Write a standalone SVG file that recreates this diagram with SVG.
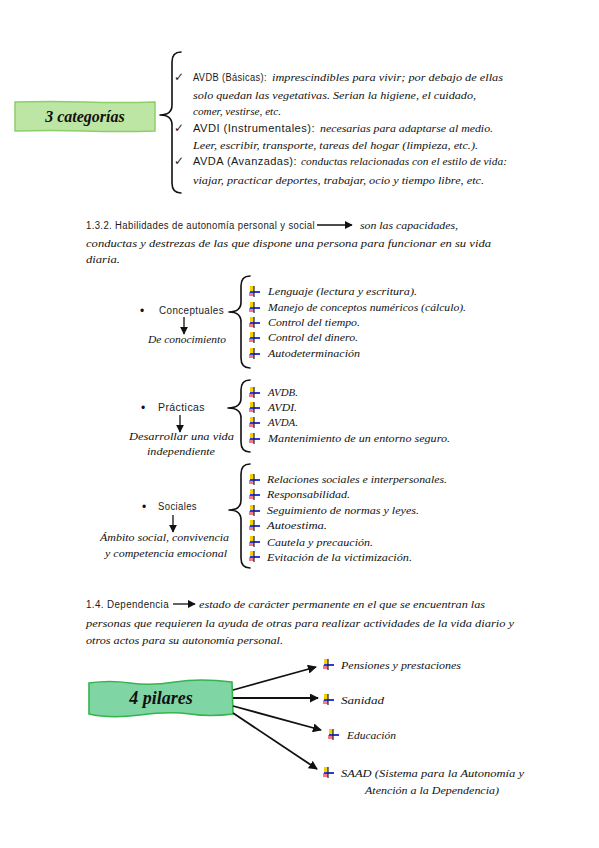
<svg xmlns="http://www.w3.org/2000/svg" xmlns:xlink="http://www.w3.org/1999/xlink" width="599" height="848" viewBox="0 0 599 848">
<style>
.cur{font-family:"Liberation Serif","DejaVu Serif",serif;font-style:italic;font-size:11px;fill:#111}
.sans{font-family:"Liberation Sans","DejaVu Sans",sans-serif;font-size:10px;fill:#1a1a1a;letter-spacing:0.4px}
.title{font-family:"Liberation Serif","DejaVu Serif",serif;font-style:italic;font-weight:bold;fill:#111}
.brace{fill:none;stroke:#111;stroke-width:1.6;stroke-linecap:round;stroke-linejoin:round}
.conn{fill:none;stroke:#111;stroke-width:1.8}
.thin{fill:none;stroke:#111;stroke-width:1.3}
.chk{font-family:"DejaVu Sans",sans-serif;font-size:12px;fill:#222}
.dot{font-family:"Liberation Sans",sans-serif;font-size:12px;fill:#111}
</style>
<defs>
<marker id="ah" viewBox="0 0 10 10" refX="9" refY="5" markerWidth="5" markerHeight="5" orient="auto" markerUnits="strokeWidth">
<path d="M0,0 L10,5 L0,10 z" fill="#111"/>
</marker>
<marker id="ahs" viewBox="0 0 10 10" refX="9" refY="5" markerWidth="6" markerHeight="6" orient="auto" markerUnits="strokeWidth">
<path d="M0,0 L10,5 L0,10 z" fill="#111"/>
</marker>
<g id="ico">
<rect x="-4" y="-6" width="4" height="6" fill="#f4d000"/>
<rect x="-5" y="0" width="5" height="4" fill="#f27a86"/>
<rect x="-4" y="-1" width="10" height="2" fill="#2a3bd8"/>
<line x1="0" y1="-6" x2="0" y2="5" stroke="#222" stroke-width="1.2"/>
</g>
</defs>
<rect width="599" height="848" fill="#ffffff"/>

<g id="categorias">
<path d="M15,102 Q50,101 85,102 T155,102 L155,131 Q120,132 85,131 T15,131 Z" fill="#bde5a3" stroke="#8ccf68" stroke-width="1.5"/>
<text class="title" x="85" y="122" font-size="16" text-anchor="middle">3 categorías</text>
</g>

<g id="categorias-list">
<path class="brace" d="M181,52 Q172,52 172,62 L172,105 Q172,115 160,115 Q172,115 172,125 L172,183 Q172,193 181,193"/>
<text class="chk" x="174" y="81">✓</text>
<text class="chk" x="174" y="132">✓</text>
<text class="chk" x="174" y="165">✓</text>
<text class="sans" x="193" y="81" textLength="74" lengthAdjust="spacingAndGlyphs">AVDB (Básicas):</text>
<text class="cur" x="272" y="81" textLength="231" lengthAdjust="spacingAndGlyphs">imprescindibles para vivir; por debajo de ellas</text>
<text class="cur" x="193" y="99" textLength="283" lengthAdjust="spacingAndGlyphs">solo quedan las vegetativas. Serian la higiene, el cuidado,</text>
<text class="cur" x="193" y="115" textLength="88" lengthAdjust="spacingAndGlyphs">comer, vestirse, etc.</text>
<text class="sans" x="193" y="132" textLength="122" lengthAdjust="spacingAndGlyphs">AVDI (Instrumentales):</text>
<text class="cur" x="320" y="132" textLength="173" lengthAdjust="spacingAndGlyphs">necesarias para adaptarse al medio.</text>
<text class="cur" x="193" y="149" textLength="285" lengthAdjust="spacingAndGlyphs">Leer, escribir, transporte, tareas del hogar (limpieza, etc.).</text>
<text class="sans" x="193" y="165" textLength="104" lengthAdjust="spacingAndGlyphs">AVDA (Avanzadas):</text>
<text class="cur" x="301" y="165" textLength="206" lengthAdjust="spacingAndGlyphs">conductas relacionadas con el estilo de vida:</text>
<text class="cur" x="193" y="184" textLength="291" lengthAdjust="spacingAndGlyphs">viajar, practicar deportes, trabajar, ocio y tiempo libre, etc.</text>
</g>

<g id="sec-132">
<text class="sans" x="86" y="229" textLength="229" lengthAdjust="spacingAndGlyphs">1.3.2. Habilidades de autonomía personal y social</text>
<text class="cur" x="360" y="229" textLength="98" lengthAdjust="spacingAndGlyphs">son las capacidades,</text>
<text class="cur" x="86" y="247" textLength="405" lengthAdjust="spacingAndGlyphs">conductas y destrezas de las que dispone una persona para funcionar en su vida</text>
<text class="cur" x="86" y="263" textLength="34" lengthAdjust="spacingAndGlyphs">diaria.</text>
</g>

<g id="conceptuales">
<text class="dot" x="140" y="315">•</text>
<text class="sans" x="159" y="314" textLength="65" lengthAdjust="spacingAndGlyphs">Conceptuales</text>
<text class="cur" x="148" y="343" textLength="78" lengthAdjust="spacingAndGlyphs">De conocimiento</text>
<path class="brace" d="M250,276 Q241,276 241,286 L241,302 Q241,312 229,312 Q241,312 241,322 L241,358 Q241,368 250,368"/>
<use xlink:href="#ico" x="254" y="292"/>
<use xlink:href="#ico" x="254" y="308"/>
<use xlink:href="#ico" x="254" y="323"/>
<use xlink:href="#ico" x="254" y="338"/>
<use xlink:href="#ico" x="254" y="354"/>
<text class="cur" x="268" y="295" textLength="149" lengthAdjust="spacingAndGlyphs">Lenguaje (lectura y escritura).</text>
<text class="cur" x="268" y="311" textLength="198" lengthAdjust="spacingAndGlyphs">Manejo de conceptos numéricos (cálculo).</text>
<text class="cur" x="268" y="326" textLength="92" lengthAdjust="spacingAndGlyphs">Control del tiempo.</text>
<text class="cur" x="268" y="341" textLength="90" lengthAdjust="spacingAndGlyphs">Control del dinero.</text>
<text class="cur" x="268" y="357" textLength="92" lengthAdjust="spacingAndGlyphs">Autodeterminación</text>
</g>

<g id="practicas">
<text class="dot" x="141" y="412">•</text>
<text class="sans" x="158" y="411" textLength="47" lengthAdjust="spacingAndGlyphs">Prácticas</text>
<text class="cur" x="129" y="440" textLength="105" lengthAdjust="spacingAndGlyphs">Desarrollar una vida</text>
<text class="cur" x="147" y="455" textLength="68" lengthAdjust="spacingAndGlyphs">independiente</text>
<path class="brace" d="M250,380 Q241,380 241,390 L241,398 Q241,408 228,408 Q241,408 241,418 L241,442 Q241,452 250,452"/>
<use xlink:href="#ico" x="254" y="393"/>
<use xlink:href="#ico" x="254" y="408"/>
<use xlink:href="#ico" x="254" y="423"/>
<use xlink:href="#ico" x="254" y="439"/>
<text class="cur" x="268" y="396" textLength="30" lengthAdjust="spacingAndGlyphs">AVDB.</text>
<text class="cur" x="268" y="411" textLength="29" lengthAdjust="spacingAndGlyphs">AVDI.</text>
<text class="cur" x="268" y="426" textLength="30" lengthAdjust="spacingAndGlyphs">AVDA.</text>
<text class="cur" x="268" y="442" textLength="182" lengthAdjust="spacingAndGlyphs">Mantenimiento de un entorno seguro.</text>
</g>

<g id="sociales">
<text class="dot" x="142" y="511">•</text>
<text class="sans" x="158" y="510" textLength="39" lengthAdjust="spacingAndGlyphs">Sociales</text>
<text class="cur" x="100" y="541" textLength="129" lengthAdjust="spacingAndGlyphs">Ámbito social, convivencia</text>
<text class="cur" x="105" y="557" textLength="122" lengthAdjust="spacingAndGlyphs">y competencia emocional</text>
<path class="brace" d="M250,464 Q241,464 241,474 L241,500 Q241,510 229,510 Q241,510 241,520 L241,558 Q241,568 250,568"/>
<use xlink:href="#ico" x="254" y="480"/>
<use xlink:href="#ico" x="254" y="495"/>
<use xlink:href="#ico" x="254" y="511"/>
<use xlink:href="#ico" x="254" y="526"/>
<use xlink:href="#ico" x="254" y="542"/>
<use xlink:href="#ico" x="254" y="557"/>
<text class="cur" x="267" y="483" textLength="180" lengthAdjust="spacingAndGlyphs">Relaciones sociales e interpersonales.</text>
<text class="cur" x="267" y="498" textLength="83" lengthAdjust="spacingAndGlyphs">Responsabilidad.</text>
<text class="cur" x="267" y="514" textLength="152" lengthAdjust="spacingAndGlyphs">Seguimiento de normas y leyes.</text>
<text class="cur" x="267" y="529" textLength="60" lengthAdjust="spacingAndGlyphs">Autoestima.</text>
<text class="cur" x="267" y="546" textLength="106" lengthAdjust="spacingAndGlyphs">Cautela y precaución.</text>
<text class="cur" x="267" y="561" textLength="145" lengthAdjust="spacingAndGlyphs">Evitación de la victimización.</text>
</g>

<g id="sec-14">
<text class="sans" x="86" y="608" textLength="83" lengthAdjust="spacingAndGlyphs">1.4. Dependencia</text>
<text class="cur" x="199" y="608" textLength="286" lengthAdjust="spacingAndGlyphs">estado de carácter permanente en el que se encuentran las</text>
<text class="cur" x="86" y="627" textLength="428" lengthAdjust="spacingAndGlyphs">personas que requieren la ayuda de otras para realizar actividades de la vida diario y</text>
<text class="cur" x="86" y="644" textLength="197" lengthAdjust="spacingAndGlyphs">otros actos para su autonomía personal.</text>
</g>

<g id="pilares">
<path d="M89,683 Q110,680 130,683 T175,682 T232,682 L233,714 Q210,717 190,714 T140,715 T89,714 Z" fill="#80d5a5" stroke="#34b44c" stroke-width="1.6"/>
<text class="title" x="161" y="704" font-size="18" text-anchor="middle">4 pilares</text>
</g>

<g id="pilar-pensiones">
<use xlink:href="#ico" x="328" y="665"/>
<text class="cur" x="341" y="669" textLength="120" lengthAdjust="spacingAndGlyphs">Pensiones y prestaciones</text>
</g>
<g id="pilar-sanidad">
<use xlink:href="#ico" x="328" y="700"/>
<text class="cur" x="341" y="704" textLength="43" lengthAdjust="spacingAndGlyphs">Sanidad</text>
</g>
<g id="pilar-educacion">
<use xlink:href="#ico" x="333" y="735"/>
<text class="cur" x="347" y="739" textLength="49" lengthAdjust="spacingAndGlyphs">Educación</text>
</g>
<g id="pilar-saad">
<use xlink:href="#ico" x="328" y="773"/>
<text class="cur" x="341" y="777" textLength="183" lengthAdjust="spacingAndGlyphs">SAAD (Sistema para la Autonomía y</text>
<text class="cur" x="365" y="794" textLength="134" lengthAdjust="spacingAndGlyphs">Atención a la Dependencia)</text>
</g>

<g id="connectors">
<line class="thin" x1="317" y1="225" x2="352" y2="225" marker-end="url(#ahs)"/>
<line class="thin" x1="173" y1="604" x2="195" y2="604" marker-end="url(#ahs)"/>
<line class="thin" x1="184" y1="317" x2="184" y2="334" marker-end="url(#ahs)"/>
<line class="thin" x1="180" y1="415" x2="180" y2="432" marker-end="url(#ahs)"/>
<line class="thin" x1="173" y1="515" x2="173" y2="532" marker-end="url(#ahs)"/>
<line class="conn" x1="233" y1="690" x2="316" y2="667" marker-end="url(#ah)"/>
<line class="conn" x1="233" y1="698" x2="318" y2="698" marker-end="url(#ah)"/>
<line class="conn" x1="233" y1="706" x2="321" y2="730" marker-end="url(#ah)"/>
<line class="conn" x1="233" y1="713" x2="317" y2="769" marker-end="url(#ah)"/>
</g>
</svg>
